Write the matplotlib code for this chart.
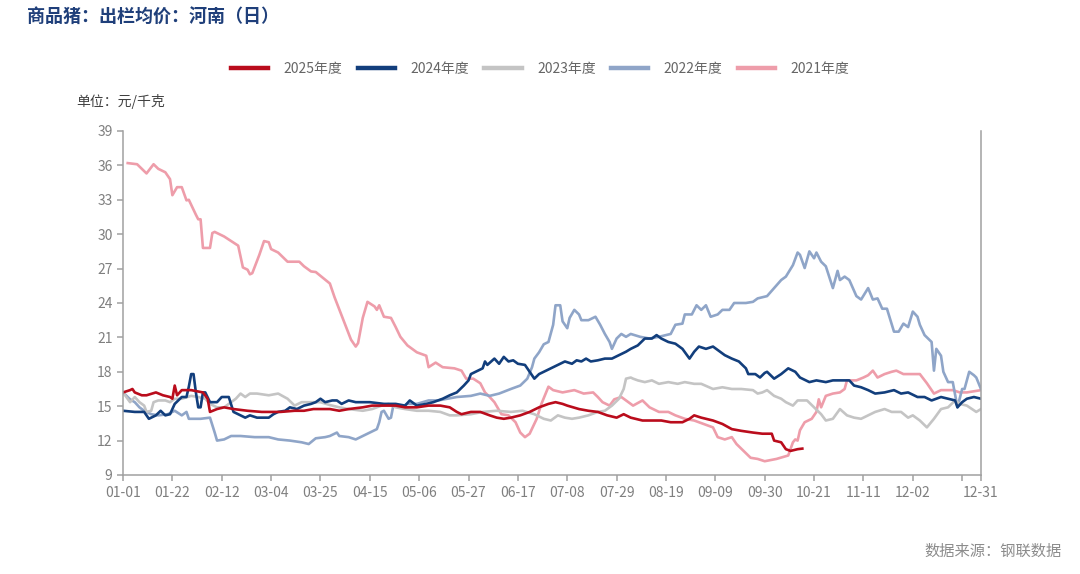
import pandas as pd
import matplotlib
matplotlib.use("Agg")
import matplotlib.pyplot as plt

plt.rcParams['font.family'] = ['Noto Sans CJK SC', 'DejaVu Sans']
plt.rcParams['axes.unicode_minus'] = False

# 横轴：按 2024 年日历的日序号（0 = 01-01, 365 = 12-31）
x_tick_labels = ["01-01", "01-22", "02-12", "03-04", "03-25", "04-15", "05-06", "05-27",
                 "06-17", "07-08", "07-29", "08-19", "09-09", "09-30", "10-21", "11-11",
                 "12-02", "12-23", "12-31"]
y_ticks = [9, 12, 15, 18, 21, 24, 27, 30, 33, 36, 39]

# 2025年度
d25 = [0, 3, 4, 5, 8, 10, 14, 17, 20, 21, 22, 23, 25, 29, 34, 36, 37, 40, 43, 47, 53, 59, 63,
       67, 73, 77, 81, 88, 92, 96, 102, 106, 116, 120, 125, 130, 135, 139, 142, 144, 148, 152,
       156, 159, 162, 165, 169, 173, 177, 181, 184, 187, 189, 194, 198, 202, 206, 210, 213,
       216, 221, 225, 229, 233, 238, 241, 243, 246, 251, 255, 259, 263, 268, 272, 274, 276,
       277, 280, 282, 284, 287, 289]
v25 = [16.2, 16.4, 16.5, 16.2, 15.95, 15.95, 16.2, 15.95, 15.8, 15.65, 16.8, 15.95, 16.4,
       16.4, 16.2, 15.65, 14.5, 14.75, 14.9, 14.75, 14.6, 14.5, 14.5, 14.5, 14.6, 14.6, 14.75,
       14.75, 14.6, 14.75, 14.9, 15.05, 15.05, 14.9, 14.9, 15.05, 15.05, 14.9, 14.5, 14.3,
       14.5, 14.5, 14.2, 14.0, 13.9, 14.0, 14.2, 14.5, 14.9, 15.2, 15.35, 15.2, 15.05, 14.75,
       14.6, 14.5, 14.2, 14.0, 14.3, 14.0, 13.75, 13.75, 13.75, 13.6, 13.6, 13.9, 14.2, 14.0,
       13.75, 13.45, 13.0, 12.85, 12.7, 12.6, 12.6, 12.6, 12.0, 11.85, 11.25, 11.1, 11.25, 11.3]

# 2024年度
d24 = [0, 5, 9, 11, 14, 16, 18, 20, 22, 25, 27, 28, 29, 30, 31, 32, 33, 34, 35, 37, 40, 42,
       45, 47, 49, 52, 54, 57, 62, 64, 66, 69, 71, 74, 77, 80, 82, 84, 86, 89, 91, 93, 96,
       99, 105, 111, 116, 120, 122, 125, 129, 132, 136, 139, 142, 145, 147, 148, 150, 153,
       154, 155, 158, 160, 162, 164, 166, 168, 171, 173, 175, 177, 180, 182, 185, 188, 191,
       193, 195, 197, 199, 202, 205, 208, 211, 214, 216, 219, 222, 225, 227, 229, 232, 235,
       238, 241, 243, 245, 248, 251, 253, 256, 259, 262, 265, 266, 269, 271, 273, 274, 277,
       280, 283, 286, 288, 292, 295, 299, 302, 306, 309, 311, 314, 317, 320, 324, 328, 331,
       334, 338, 341, 344, 348, 351, 354, 355, 357, 359, 362, 365]
v24 = [14.6, 14.5, 14.5, 13.9, 14.2, 14.6, 14.2, 14.3, 15.2, 15.8, 15.8, 16.7, 17.8, 17.8,
       16.2, 14.9, 14.9, 16.2, 16.2, 15.35, 15.35, 15.8, 15.8, 14.5, 14.3, 14.0, 14.2, 14.0,
       14.0, 14.3, 14.5, 14.6, 14.9, 14.75, 15.05, 15.2, 15.35, 15.65, 15.35, 15.5, 15.5,
       15.2, 15.5, 15.35, 15.35, 15.2, 15.2, 15.05, 15.5, 15.05, 15.2, 15.35, 15.65, 15.95,
       16.2, 16.8, 17.25, 17.8, 18.0, 18.3, 18.9, 18.6, 19.15, 18.7, 19.3, 18.9, 19.0, 18.7,
       18.6, 18.0, 17.4, 17.8, 18.1, 18.3, 18.6, 18.9, 18.7, 19.0, 18.9, 19.15, 18.9, 19.0,
       19.15, 19.15, 19.45, 19.75, 20.0, 20.3, 20.9, 20.9, 21.2, 20.9, 20.6, 20.45, 20.0,
       19.15, 19.75, 20.2, 20.0, 20.2, 19.9, 19.45, 19.15, 18.9, 18.3, 17.8, 17.8, 17.5, 17.9,
       18.0, 17.4, 17.8, 18.3, 18.0, 17.5, 17.1, 17.25, 17.1, 17.25, 17.25, 17.25, 16.8,
       16.65, 16.4, 16.1, 16.2, 16.4, 16.1, 16.2, 15.8, 15.8, 15.5, 15.8, 15.65, 15.5, 14.9,
       15.35, 15.65, 15.8, 15.65]

# 2023年度
d23 = [0, 3, 5, 7, 9, 10, 12, 13, 15, 18, 20, 22, 25, 29, 32, 35, 37, 40, 43, 46, 48, 50, 52,
       54, 57, 62, 66, 70, 73, 76, 80, 84, 88, 92, 96, 102, 106, 110, 113, 116, 120, 125, 130,
       135, 139, 142, 148, 153, 159, 165, 170, 175, 179, 182, 185, 188, 191, 194, 198, 202,
       205, 208, 211, 213, 214, 216, 217, 219, 222, 225, 228, 232, 236, 239, 243, 246, 251,
       255, 259, 263, 268, 270, 272, 274, 277, 280, 282, 285, 287, 291, 294, 297, 299, 302,
       305, 308, 311, 314, 317, 320, 324, 327, 331, 334, 336, 339, 342, 345, 348, 351, 354,
       356, 359, 363, 365]
v23 = [16.2, 15.35, 15.8, 15.35, 15.05, 14.5, 14.6, 15.35, 15.5, 15.5, 15.35, 15.65, 15.65,
       15.9, 15.8, 15.65, 15.2, 14.9, 14.9, 15.35, 15.65, 16.1, 15.8, 16.1, 16.1, 15.95, 16.1,
       15.65, 15.05, 15.35, 15.35, 15.35, 15.1, 14.9, 14.75, 14.6, 14.75, 15.05, 15.2, 14.9,
       14.75, 14.6, 14.6, 14.5, 14.2, 14.2, 14.3, 14.5, 14.6, 14.5, 14.6, 14.3, 13.9, 13.75,
       14.2, 14.0, 13.9, 14.0, 14.2, 14.5, 14.6, 15.05, 15.65, 16.5, 17.4, 17.5, 17.4, 17.25,
       17.1, 17.25, 16.95, 17.1, 16.95, 17.1, 16.95, 16.95, 16.5, 16.65, 16.5, 16.5, 16.4,
       16.1, 16.2, 16.4, 15.9, 15.65, 15.35, 15.05, 15.5, 15.5, 14.9, 14.3, 13.75, 13.9,
       14.75, 14.2, 14.0, 13.9, 14.2, 14.5, 14.75, 14.5, 14.5, 14.0, 14.2, 13.75, 13.15, 13.9,
       14.75, 14.9, 15.5, 15.2, 15.05, 14.5, 14.75]

# 2022年度
d22 = [0, 3, 5, 7, 9, 12, 15, 19, 22, 25, 27, 28, 33, 37, 39, 40, 43, 46, 50, 56, 62, 66, 71,
       76, 79, 82, 86, 88, 91, 92, 96, 99, 102, 105, 108, 109, 110, 111, 113, 114, 115, 118,
       121, 125, 130, 134, 138, 142, 148, 152, 156, 160, 165, 169, 172, 174, 175, 177, 179,
       181, 183, 184, 186, 187, 189, 190, 192, 194, 195, 198, 201, 203, 205, 207, 208, 210,
       212, 214, 216, 220, 224, 228, 233, 235, 238, 239, 242, 244, 246, 248, 250, 253, 255,
       258, 260, 262, 265, 268, 270, 272, 274, 277, 280, 282, 285, 287, 288, 290, 292, 294,
       295, 297, 299, 302, 304, 305, 307, 309, 312, 314, 317, 319, 321, 323, 325, 328, 330,
       332, 334, 336, 338, 339, 341, 344, 345, 346, 348, 349, 351, 353, 355, 357, 358, 360,
       362, 363, 365]
v22 = [16.2, 15.6, 15.35, 14.9, 14.6, 14.3, 14.2, 14.3, 14.6, 14.2, 14.5, 13.9, 13.9, 14.0,
       12.7, 12.0, 12.1, 12.4, 12.4, 12.3, 12.3, 12.1, 12.0, 11.85, 11.7, 12.2, 12.3, 12.4,
       12.7, 12.4, 12.3, 12.1, 12.4, 12.7, 13.0, 13.6, 14.5, 14.6, 13.9, 14.0, 15.05, 14.9,
       15.2, 15.2, 15.5, 15.5, 15.65, 15.8, 15.9, 16.1, 15.9, 16.1, 16.5, 16.8, 17.4, 18.4,
       19.15, 19.7, 20.4, 20.6, 22.1, 23.8, 23.8, 22.4, 21.8, 22.7, 23.4, 23.0, 22.5, 22.5,
       22.8, 22.1, 21.3, 20.6, 20.0, 20.9, 21.3, 21.05, 21.3, 21.05, 20.9, 21.05, 21.3, 22.1,
       22.2, 23.0, 23.0, 23.8, 23.4, 23.8, 22.8, 23.0, 23.4, 23.4, 24.0, 24.0, 24.0, 24.1,
       24.4, 24.5, 24.6, 25.3, 26.0, 26.3, 27.3, 28.4, 28.2, 27.05, 28.5, 27.9, 28.4, 27.6,
       27.2, 25.3, 26.8, 26.0, 26.3, 26.0, 24.6, 24.3, 25.3, 24.3, 24.4, 23.5, 23.5, 21.5,
       21.5, 22.2, 21.9, 23.25, 22.8, 22.1, 21.2, 20.6, 18.1, 20.0, 19.4, 18.0, 17.1, 17.1,
       14.9, 16.5, 16.5, 18.0, 17.7, 17.5, 16.5]

# 2021年度
d21 = [2, 6, 10, 13, 15, 18, 20, 21, 23, 25, 27, 28, 31, 32, 33, 34, 37, 38, 39, 43, 46, 49,
       51, 53, 54, 55, 58, 60, 62, 63, 66, 70, 75, 77, 80, 82, 85, 88, 90, 94, 97, 99, 100,
       102, 104, 107, 108, 109, 111, 114, 116, 118, 121, 125, 129, 130, 133, 136, 141, 144,
       146, 149, 152, 154, 156, 158, 161, 164, 167, 169, 171, 173, 176, 178, 180, 181, 183,
       187, 192, 196, 200, 202, 204, 207, 209, 212, 214, 217, 221, 224, 228, 232, 235, 239,
       243, 247, 251, 253, 256, 259, 261, 264, 267, 270, 273, 278, 283, 285, 286, 287, 288,
       290, 293, 295, 296, 297, 299, 302, 305, 307, 308, 312, 315, 317, 319, 321, 324, 327,
       329, 332, 334, 339, 342, 345, 348, 353, 356, 359, 365]
v21 = [36.2, 36.1, 35.3, 36.1, 35.7, 35.4, 34.8, 33.4, 34.1, 34.1, 32.95, 33.0, 31.7, 31.3,
       31.3, 28.8, 28.8, 30.1, 30.2, 29.8, 29.4, 29.0, 27.1, 26.9, 26.5, 26.6, 28.2, 29.4,
       29.3, 28.7, 28.4, 27.6, 27.6, 27.2, 26.75, 26.7, 26.2, 25.7, 24.5, 22.4, 20.8, 20.2,
       20.5, 22.7, 24.1, 23.7, 23.4, 23.8, 22.8, 22.7, 21.9, 21.05, 20.3, 19.7, 19.4, 18.4,
       18.8, 18.4, 18.3, 18.1, 17.4, 17.4, 17.0, 16.2, 15.8, 15.35, 14.3, 14.2, 13.6, 12.7,
       12.3, 12.6, 13.9, 15.2, 16.2, 16.7, 16.4, 16.2, 16.4, 16.1, 16.2, 15.8, 15.35, 15.05,
       15.6, 15.8, 15.5, 15.05, 15.5, 14.9, 14.5, 14.5, 14.2, 13.9, 13.75, 13.45, 13.15, 12.3,
       12.1, 12.3, 11.7, 11.1, 10.5, 10.4, 10.2, 10.4, 10.7, 11.85, 12.1, 12.0, 12.9, 13.6,
       13.9, 14.5, 15.6, 14.9, 15.9, 16.1, 16.2, 16.5, 17.25, 17.25, 17.5, 17.7, 18.1, 17.5,
       17.8, 18.0, 18.1, 17.8, 17.8, 17.8, 17.0, 16.1, 16.4, 16.4, 16.2, 16.2, 16.4]

# 刻度位置：由标签换算成 2024 年的日序号
x_ticks = [pd.Timestamp("2024-" + s).dayofyear - 1 for s in x_tick_labels]
x_labels_shown = [s if s != "12-23" else "" for s in x_tick_labels]

fig = plt.figure(figsize=(10.8, 5.74), dpi=100)
ax = fig.add_axes([0.1139, 0.1725, 0.7944, 0.5993])

ax.plot(d21, v21, color="#EE9DAA", lw=1.9, label="2021年度")
ax.plot(d22, v22, color="#8FA5C8", lw=1.9, label="2022年度")
ax.plot(d23, v23, color="#C4C4C4", lw=1.9, label="2023年度")
ax.plot(d24, v24, color="#123E7C", lw=1.9, label="2024年度")
ax.plot(d25, v25, color="#BA0C1C", lw=1.9, label="2025年度")

ax.set_xlim(0, 365)
ax.set_ylim(9, 39)
ax.set_yticks(y_ticks)
ax.set_xticks(x_ticks)
ax.set_xticklabels(x_labels_shown)

for side in ["left", "right", "bottom"]:
    ax.spines[side].set_color("#A0A0A0")
    ax.spines[side].set_linewidth(1.1)
ax.spines["top"].set_visible(False)
ax.tick_params(axis="both", colors="#A0A0A0", labelcolor="#7F7F7F", labelsize=10,
               length=4, width=1.1, direction="out")
ax.tick_params(axis="x", pad=4)

# 图例按 2025 -> 2021 排列
handles, labels = ax.get_legend_handles_labels()
fig.legend(handles[::-1], labels[::-1], loc="center", bbox_to_anchor=(0.5, 0.88), ncol=5,
           frameon=False, fontsize=10, handlelength=2.7, handletextpad=1.1,
           columnspacing=1.1, labelcolor="#666666")
for line in fig.legends[0].get_lines():
    line.set_linewidth(3.2)

fig.text(0.025, 0.972, "商品猪：出栏均价：河南（日）", fontsize=13, fontweight="bold",
         color="#1F3F7A", ha="left", va="center")
fig.text(0.071, 0.823, "单位：元/千克", fontsize=10, color="#404040", ha="left", va="center")
fig.text(0.983, 0.04, "数据来源：钢联数据", fontsize=11, color="#8C8C8C", ha="right", va="center")

fig.savefig("out.png", dpi=100)
